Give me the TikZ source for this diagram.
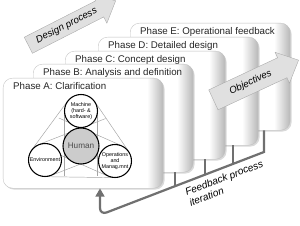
\documentclass[tikz,border=0pt]{standalone}
\usepackage{fontspec}
\setmainfont{Liberation Sans}
\usetikzlibrary{arrows.meta,calc,positioning,shadows}
\definecolor{fbgray}{RGB}{112,112,112}
\definecolor{arrowfill}{RGB}{224,224,224}
\definecolor{webgray}{RGB}{165,165,165}
\pgfdeclarehorizontalshading{cardshade}{100bp}{color(0bp)=(white); color(25bp)=(white);
  color(70bp)=(white); color(75bp)=(black!28); color(100bp)=(black!28)}

\begin{document}
\begin{tikzpicture}[x=.03cm,y=-.03cm,font=\fontsize{8.3}{9.5}\selectfont,
  card/.style={rounded corners=8pt,shading=cardshade,draw=black!25,line width=.3pt,
    anchor=north west,minimum width=4.8cm,
    drop shadow={shadow xshift=1.2pt,shadow yshift=-1.2pt,opacity=.3}},
  phaselbl/.style={anchor=north west,inner sep=0pt,text=black!85},
  unit/.style={circle,draw,line width=.9pt,fill=white,minimum size=.99cm,inner sep=0pt,
    align=center,font=\fontsize{4.6}{5.3}\selectfont},
  web/.style={webgray,line width=.4pt},
  blockarrow/.style={fill=arrowfill,draw=black!35,line width=.3pt},
  arrowtext/.style={inner sep=0pt,font=\fontsize{8.3}{9}\selectfont\itshape},
  fbline/.style={fbgray,line width=1.9pt}]
  \useasboundingbox (0,0) rectangle (300,226);

  % the five phases, back to front
  \foreach \nm/\x/\y/\h/\txt in {phaseE/130/23/3.21cm/{Phase E: Operational feedback},
      phaseD/98/37/3.24cm/{Phase D: Detailed design},
      phaseC/65/51/3.24cm/{Phase C: Concept design},
      phaseB/33/64/3.24cm/{Phase B: Analysis and definition},
      phaseA/3/78/3.3cm/{Phase A: Clarification}}{
    \node[card,minimum height=\h] (\nm) at (\x,\y) {};
    \node[phaselbl] at ($(\nm.north west)+(10,4)$) {\txt};
  }

  % clarification model
  \coordinate (cM) at (81,111);
  \coordinate (cH) at (81,146);
  \coordinate (cE) at (45,160);
  \coordinate (cO) at (115,161);
  \def\rad{.5cm}
  \draw[web] ($(cM)!\rad!-90:(cE)$) -- ($(cE)!\rad!90:(cM)$)
    ($(cE)!\rad!-90:(cO)$) -- ($(cO)!\rad!90:(cE)$)
    ($(cO)!\rad!-90:(cM)$) -- ($(cM)!\rad!90:(cO)$);
  \foreach \c in {cM,cE,cO}{
    \coordinate (p1) at ($(\c)!\rad!90:(cH)$);
    \coordinate (p2) at ($(\c)!\rad!-90:(cH)$);
    \coordinate (q1) at ($(cH)+(p1)-(\c)$);
    \coordinate (q2) at ($(cH)+(p2)-(\c)$);
    \draw[web] (p1) -- ($(p1)!1.85!(q1)$) (p2) -- ($(p2)!1.85!(q2)$);
  }
  \node[unit] (machine) at (cM) {Machine\\(hard- \&\\software)};
  \node[unit] (env) at (cE) {Environment};
  \node[unit] (ops) at (cO) {Operations\\and\\Manag.mnt};
  \node[unit,fill=black!20,minimum size=1.08cm,text=black!70,
    font=\fontsize{7}{8}\selectfont] (human) at (cH) {Human};

  % block arrows
  \begin{scope}[shift={(72,23)},rotate=27]
    \draw[blockarrow] (-49,-9) -- (31,-9) -- (31,-16) -- (49,0) -- (31,16)
      -- (31,9) -- (-49,9) -- cycle;
    \node[arrowtext,rotate=27] (design) at (-6,0) {Design process};
  \end{scope}
  \begin{scope}[shift={(256,80)},rotate=25]
    \draw[blockarrow] (-47,-11) -- (29,-11) -- (29,-17) -- (47,0) -- (29,17)
      -- (29,11) -- (-47,11) -- cycle;
    \node[arrowtext,rotate=25] (objectives) at (-6,0) {Objectives};
  \end{scope}

  % feedback loop
  \coordinate (fbEnd) at (264,152);
  \coordinate (fbCorner) at (100,215);
  \draw[fbline,-{Triangle[width=7.5pt,length=7pt]}] (phaseE.south -| fbEnd) -- (fbEnd)
    [rounded corners=6pt] -- (fbCorner) -- (fbCorner |- phaseA.south);
  \foreach \ph/\t in {phaseB/.457,phaseC/.64,phaseD/.81}{
    \coordinate (tk) at ($(fbCorner)!\t!(fbEnd)$);
    \draw[fbline] (tk) -- (tk |- \ph.south);
  }
  \node[rotate=21,anchor=north west,align=left,inner sep=0pt,
    font=\fontsize{8.6}{9.8}\selectfont\itshape] (fbtext) at (184,189)
    {Feedback process\\iteration};
\end{tikzpicture}
\end{document}
